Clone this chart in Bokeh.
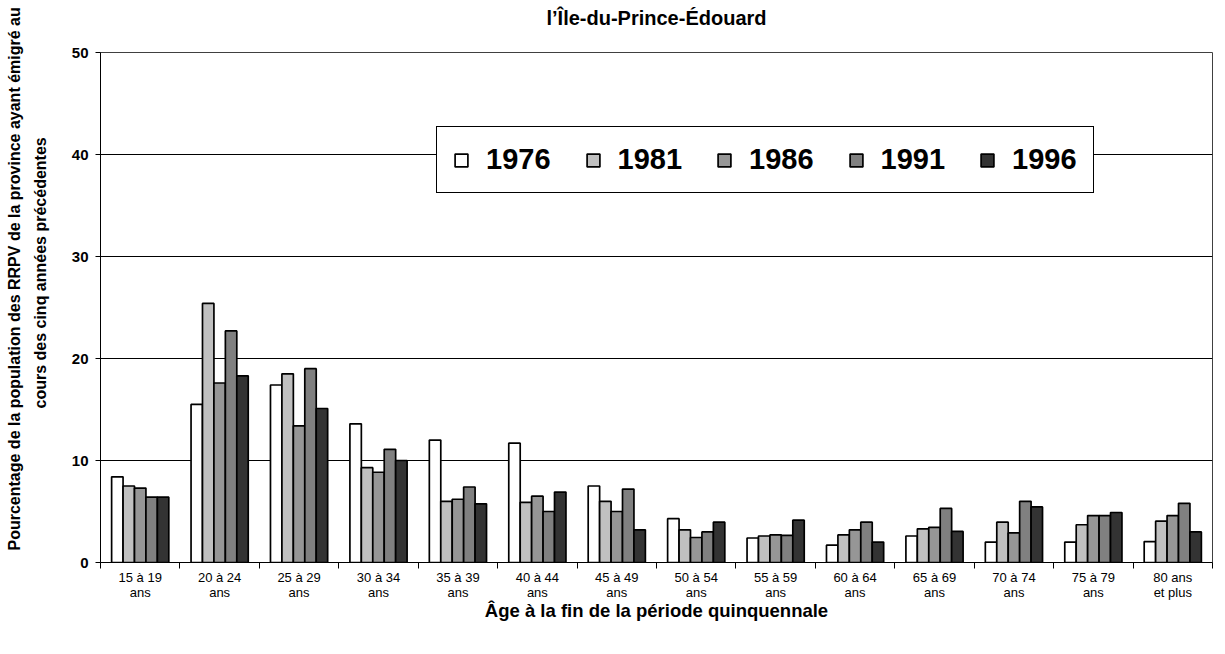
from bokeh.plotting import figure
from bokeh.models import Range1d, FixedTicker, Legend, Title, LinearAxis
from bokeh.embed import file_html
from bokeh.resources import INLINE

categories = ["15 à 19\nans", "20 à 24\nans", "25 à 29\nans", "30 à 34\nans", "35 à 39\nans",
              "40 à 44\nans", "45 à 49\nans", "50 à 54\nans", "55 à 59\nans", "60 à 64\nans",
              "65 à 69\nans", "70 à 74\nans", "75 à 79\nans", "80 ans\net plus"]
years = ["1976", "1981", "1986", "1991", "1996"]
v1976 = [8.4, 15.5, 17.4, 13.6, 12.0, 11.7, 7.5, 4.3, 2.4, 1.7, 2.6, 2.0, 2.0, 2.05]
v1981 = [7.5, 25.4, 18.5, 9.3, 6.0, 5.9, 6.0, 3.2, 2.6, 2.7, 3.3, 3.95, 3.7, 4.05]
v1986 = [7.3, 17.6, 13.4, 8.85, 6.2, 6.5, 5.0, 2.45, 2.7, 3.2, 3.45, 2.9, 4.6, 4.6]
v1991 = [6.4, 22.7, 19.0, 11.1, 7.4, 5.0, 7.2, 3.0, 2.65, 3.95, 5.3, 6.0, 4.6, 5.8]
v1996 = [6.4, 18.3, 15.1, 10.0, 5.75, 6.9, 3.2, 3.95, 4.15, 2.0, 3.05, 5.45, 4.9, 3.0]
series = [v1976, v1981, v1986, v1991, v1996]
colors = ["#ffffff", "#c0c0c0", "#969696", "#808080", "#333333"]
yticks = [0, 10, 20, 30, 40, 50]
title_text = "l’Île-du-Prince-Édouard"
ylabel_1 = "Pourcentage de la population des RRPV de la province ayant émigré au"
ylabel_2 = "cours des cinq années précédentes"
xlabel = "Âge à la fin de la période quinquennale"

FONT = "Liberation Sans"
n = len(categories)

p = figure(width=1217, height=646, output_backend="svg", toolbar_location=None,
           x_range=Range1d(0, n), y_range=Range1d(0, 50),
           min_border_left=100, min_border_right=5, min_border_top=52, min_border_bottom=84)
p.outline_line_color = "#404040"
p.xgrid.grid_line_color = None
p.ygrid.grid_line_color = "#000000"
p.ygrid.grid_line_width = 1

xa = p.below[0]
ya = p.left[0]

p.title.text = title_text
p.title.align = "center"
p.title.text_font = FONT
p.title.text_font_size = "20px"
p.title.text_font_style = "bold"
p.title.text_color = "#000000"
p.title.standoff = 4


def spacer_axis(size, tick):
    return LinearAxis(ticker=FixedTicker(ticks=[tick]), major_tick_out=size, major_tick_in=0,
                      major_tick_line_alpha=0, minor_tick_line_color=None,
                      axis_line_color=None, major_label_text_font_size="0px",
                      major_label_overrides={tick: ""}, major_label_standoff=0)


bw = 0.144
renderers = []
for j, (yr, vals, col) in enumerate(zip(years, series, colors)):
    xs = [i + 0.5 + (j - 2) * bw for i in range(n)]
    r = p.vbar(x=xs, top=vals, bottom=0, width=bw, fill_color=col,
               line_color="#000000", line_width=1.7)
    renderers.append((yr, [r]))

legend = Legend(items=renderers, orientation="horizontal", location=(336, 369),
                label_text_font=FONT, label_text_font_style="bold", label_text_font_size="29px",
                label_text_color="#000000",
                glyph_width=16, glyph_height=16, label_standoff=17, spacing=34, padding=16,
                margin=0, border_line_color="#000000", border_line_width=1, border_line_alpha=1,
                background_fill_color="#ffffff", background_fill_alpha=1)
p.add_layout(legend, "center")

# x axis
xa.ticker = FixedTicker(ticks=[i + 0.5 for i in range(n)], minor_ticks=list(range(n + 1)))
xa.major_label_overrides = {i + 0.5: categories[i] for i in range(n)}
xa.major_tick_line_color = None
xa.minor_tick_out = 6
xa.minor_tick_in = 0
xa.minor_tick_line_color = "#000000"
xa.axis_line_color = "#000000"
xa.major_label_text_font = FONT
xa.major_label_text_font_size = "13px"
xa.major_label_text_color = "#000000"
xa.major_label_text_line_height = 1.0
xa.major_label_standoff = 1
xa.axis_label = xlabel
xa.axis_label_text_font = FONT
xa.axis_label_text_font_size = "18.5px"
xa.axis_label_text_font_style = "bold"
xa.axis_label_text_color = "#000000"
xa.axis_label_standoff = -3

# y axis
ya.ticker = FixedTicker(ticks=yticks)
ya.minor_tick_line_color = None
ya.major_tick_out = 5
ya.major_tick_in = 0
ya.axis_line_color = "#000000"
ya.major_label_text_font = FONT
ya.major_label_text_font_size = "15px"
ya.major_label_text_font_style = "bold"
ya.major_label_text_color = "#000000"
ya.major_label_standoff = 7

p.add_layout(spacer_axis(22, 7), "above")
p.add_layout(spacer_axis(16, 25), "left")
for txt, off, so in [(ylabel_2, 154, 8), (ylabel_1, 12, 6)]:
    p.add_layout(Title(text=txt, align="left", offset=off, text_font=FONT,
                       text_font_size="16px", text_font_style="bold",
                       text_color="#000000", standoff=so), "left")

open("out.html", "w").write(file_html(p, INLINE))
